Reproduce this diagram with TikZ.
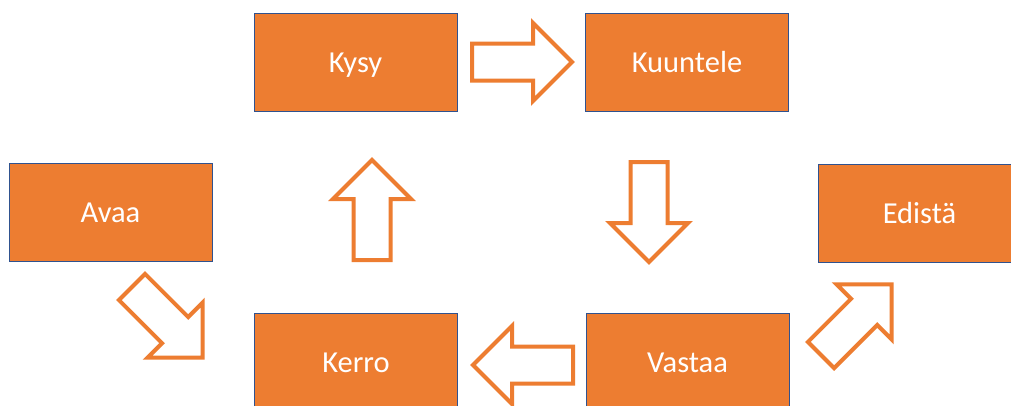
\documentclass[tikz,border=0pt]{standalone}
\usepackage{fontspec}
\setmainfont{Carlito}
\definecolor{boxfill}{HTML}{ED7D31}
\definecolor{boxline}{HTML}{2F528F}
\tikzset{
  stagebox/.style={rectangle, fill=boxfill, draw=boxline, line width=1pt,
    minimum width=203pt, minimum height=98pt, inner sep=0pt,
    text height=20pt, text depth=0pt,
    text=white, font=\fontsize{30.5}{36}\selectfont},
  arrowline/.style={draw=boxfill, fill=white, line width=4pt, line join=miter},
  blockarrow/.pic={
    \path[arrowline] (0,-18.5) -- (61,-18.5) -- (61,-39) -- (100,0)
      -- (61,39) -- (61,18.5) -- (0,18.5) -- cycle;
  }
}
\begin{document}
\begin{tikzpicture}[x=1pt, y=-1pt]
  \useasboundingbox (0,0) rectangle (1011,405);
  \clip (0,0) rectangle (1011,405);
  \fill[white] (0,0) rectangle (1011,405);

  % stages of the conversation
  \node[stagebox] (kysy)     at (355.5,62.5) {Kysy};
  \node[stagebox] (kuuntele) at (687,62.5)   {Kuuntele};
  \node[stagebox] (avaa)     at (110.5,212.5){Avaa};
  \node[stagebox] (edista)   at (919.5,213)  {Edistä};
  \node[stagebox] (kerro)    at (356,362)    {Kerro};
  \node[stagebox] (vastaa)   at (687.5,362)  {Vastaa};

  % tails of the block arrows between the stages
  \coordinate (a1) at (132,287);
  \coordinate (a2) at (372,260);
  \coordinate (a3) at (472,62);
  \coordinate (a4) at (649,162);
  \coordinate (a5) at (573,365);
  \coordinate (a6) at (821,355);
  \pic[rotate=-45] at (a1) {blockarrow};
  \pic[rotate=90]  at (a2) {blockarrow};
  \pic             at (a3) {blockarrow};
  \pic[rotate=-90] at (a4) {blockarrow};
  \pic[rotate=180] at (a5) {blockarrow};
  \pic[rotate=45]  at (a6) {blockarrow};
\end{tikzpicture}
\end{document}
